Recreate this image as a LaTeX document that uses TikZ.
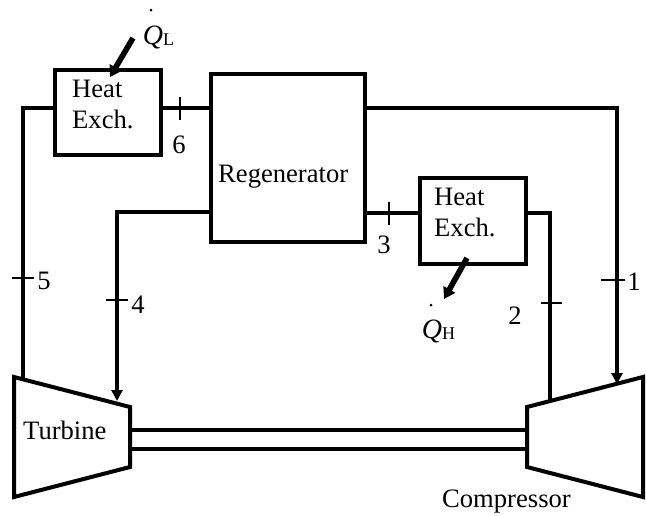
\documentclass[tikz,border=0pt]{standalone}
\usepackage{fontspec}
\setmainfont{Liberation Serif}
\usetikzlibrary{arrows.meta}
\tikzset{
  x=1pt,y=-1pt,
  unit/.style={draw=black,line width=4pt,line join=miter,fill=white},
  pipe/.style={draw=black,line width=3.6pt,line join=miter},
  flow/.style={pipe,-{Triangle[length=11pt,width=11pt]},shorten >=-1pt},
  heat/.style={draw=black,line width=5.6pt,-{Triangle[length=11pt,width=13pt]}},
  tick/.style={draw=black,line width=1.6pt},
  lab/.style={inner sep=0pt,font=\fontsize{26.6}{26.6}\selectfont},
  qlab/.style={inner sep=0pt,font=\fontsize{28}{28}\selectfont\itshape},
  qsub/.style={inner sep=0pt,font=\fontsize{18}{18}\selectfont},
  qdot/.style={circle,fill=black,inner sep=0pt,minimum size=3pt},
}
\begin{document}
\begin{tikzpicture}
\useasboundingbox (0,0) rectangle (646,515);
% pipes corners
\coordinate (cTL) at (23,108);
\coordinate (cT1) at (617,108);
\coordinate (c4) at (117,212);
\coordinate (c2) at (550,213);
\coordinate (tIn5) at (23,380);
\coordinate (tIn4) at (117,400);
\coordinate (cOut2) at (550,402);
\coordinate (cIn1) at (617,383);
% units
\node[unit,minimum width=106pt,minimum height=85pt,inner sep=0pt] (hxl) at (107.5,112) {};
\node[unit,minimum width=154pt,minimum height=168pt,inner sep=0pt] (reg) at (288,157.5) {};
\node[unit,minimum width=106pt,minimum height=86pt,inner sep=0pt] (hxh) at (473,221) {};
\draw[unit] (14,377) -- (130,407) -- (130,467) -- (14,497) -- cycle;
\draw[unit] (527,407) -- (643,377) -- (643,497) -- (527,467) -- cycle;
\coordinate (turb) at (130,437);
\coordinate (comp) at (527,437);
% connectors
\draw[pipe] (hxl.west |- cTL) -- (cTL) -- (tIn5);
\draw[pipe] (hxl.east |- cTL) -- (reg.west |- cTL);
\draw[flow] (reg.east |- cT1) -- (cT1) -- (cIn1);
\draw[flow] (reg.west |- c4) -- (c4) -- (tIn4);
\draw[pipe] (reg.east |- c2) -- (hxh.west |- c2);
\draw[pipe] (hxh.east |- c2) -- (c2) -- (cOut2);
\draw[pipe] (turb |- 0,430) -- (comp |- 0,430);
\draw[pipe] (turb |- 0,449) -- (comp |- 0,449);
% ticks
\draw[tick] (180,97) -- (180,120);
\draw[tick] (389,202) -- (389,225);
\draw[tick] (12,278) -- (34,278);
\draw[tick] (106,300) -- (128,300);
\draw[tick] (601,280) -- (625,280);
\draw[tick] (541,303) -- (562,303);
% heat arrows
\coordinate (qla) at (133,38);
\coordinate (qlb) at (110,77);
\coordinate (qha) at (467,258);
\coordinate (qhb) at (444,299);
\draw[heat] (qla) -- (qlb);
\draw[heat] (qha) -- (qhb);
% texts
\node[lab,anchor=base west] (t1) at (72,97) {Heat};
\node[lab,anchor=base west] (t2) at (72,128) {Exch.};
\node[lab,anchor=base west] (t3) at (434,205) {Heat};
\node[lab,anchor=base west] (t4) at (434,236) {Exch.};
\node[lab,anchor=base west] (t5) at (218,182) {Regenerator};
\node[lab,anchor=base west] (t6) at (23,439) {Turbine};
\node[lab,anchor=base west] (t7) at (442,507) {Compressor};
\node[lab] (n1) at (634,282) {1};
\node[lab] (n2) at (515,316) {2};
\node[lab] (n3) at (384,245) {3};
\node[lab] (n4) at (138,305) {4};
\node[lab] (n5) at (44,281) {5};
\node[lab] (n6) at (179,145) {6};
\node[qlab,anchor=base] (ql) at (153,44) {Q};
\node[qsub,anchor=base west] (qls) at (163,45) {L};
\node[qdot] (qld) at (151,10) {};
\node[qlab,anchor=base] (qh) at (432,338) {Q};
\node[qsub,anchor=base west] (qhs) at (442,339) {H};
\node[qdot] (qhd) at (431,305) {};
\end{tikzpicture}
\end{document}
